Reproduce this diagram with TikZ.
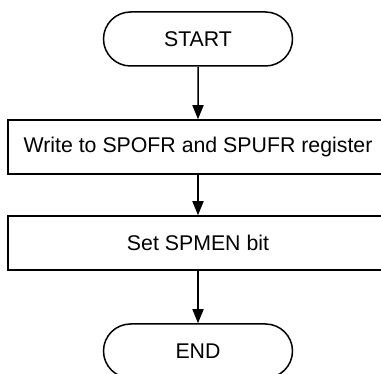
\documentclass[tikz,border=0pt]{standalone}
\usepackage{fontspec}
\setmainfont{Liberation Sans}
\usepackage{tikz}
\usetikzlibrary{arrows.meta,shapes.misc}

\begin{document}
\begin{tikzpicture}[x=1pt,y=-1pt,>={Triangle[length=14pt,width=11pt]},line width=1.5pt,
  font=\fontsize{21.3}{25}\selectfont,
  terminal/.style={draw,rounded rectangle,minimum width=189pt,minimum height=54pt,inner sep=0pt},
  process/.style={draw,rectangle,minimum width=380pt,minimum height=54pt,inner sep=0pt}]
\clip (0,0) rectangle (381,374);
\node[terminal] (start) at (198,39) {START};
\node[process] (write) at (198,147) {Write to SPOFR and SPUFR register};
\node[process] (setbit) at (198,243) {Set SPMEN bit};
\node[terminal] (stop) at (198,351) {END};
\draw[->] (start) -- (write);
\draw[->] (write) -- (setbit);
\draw[->] (setbit) -- (stop);
\end{tikzpicture}
\end{document}
